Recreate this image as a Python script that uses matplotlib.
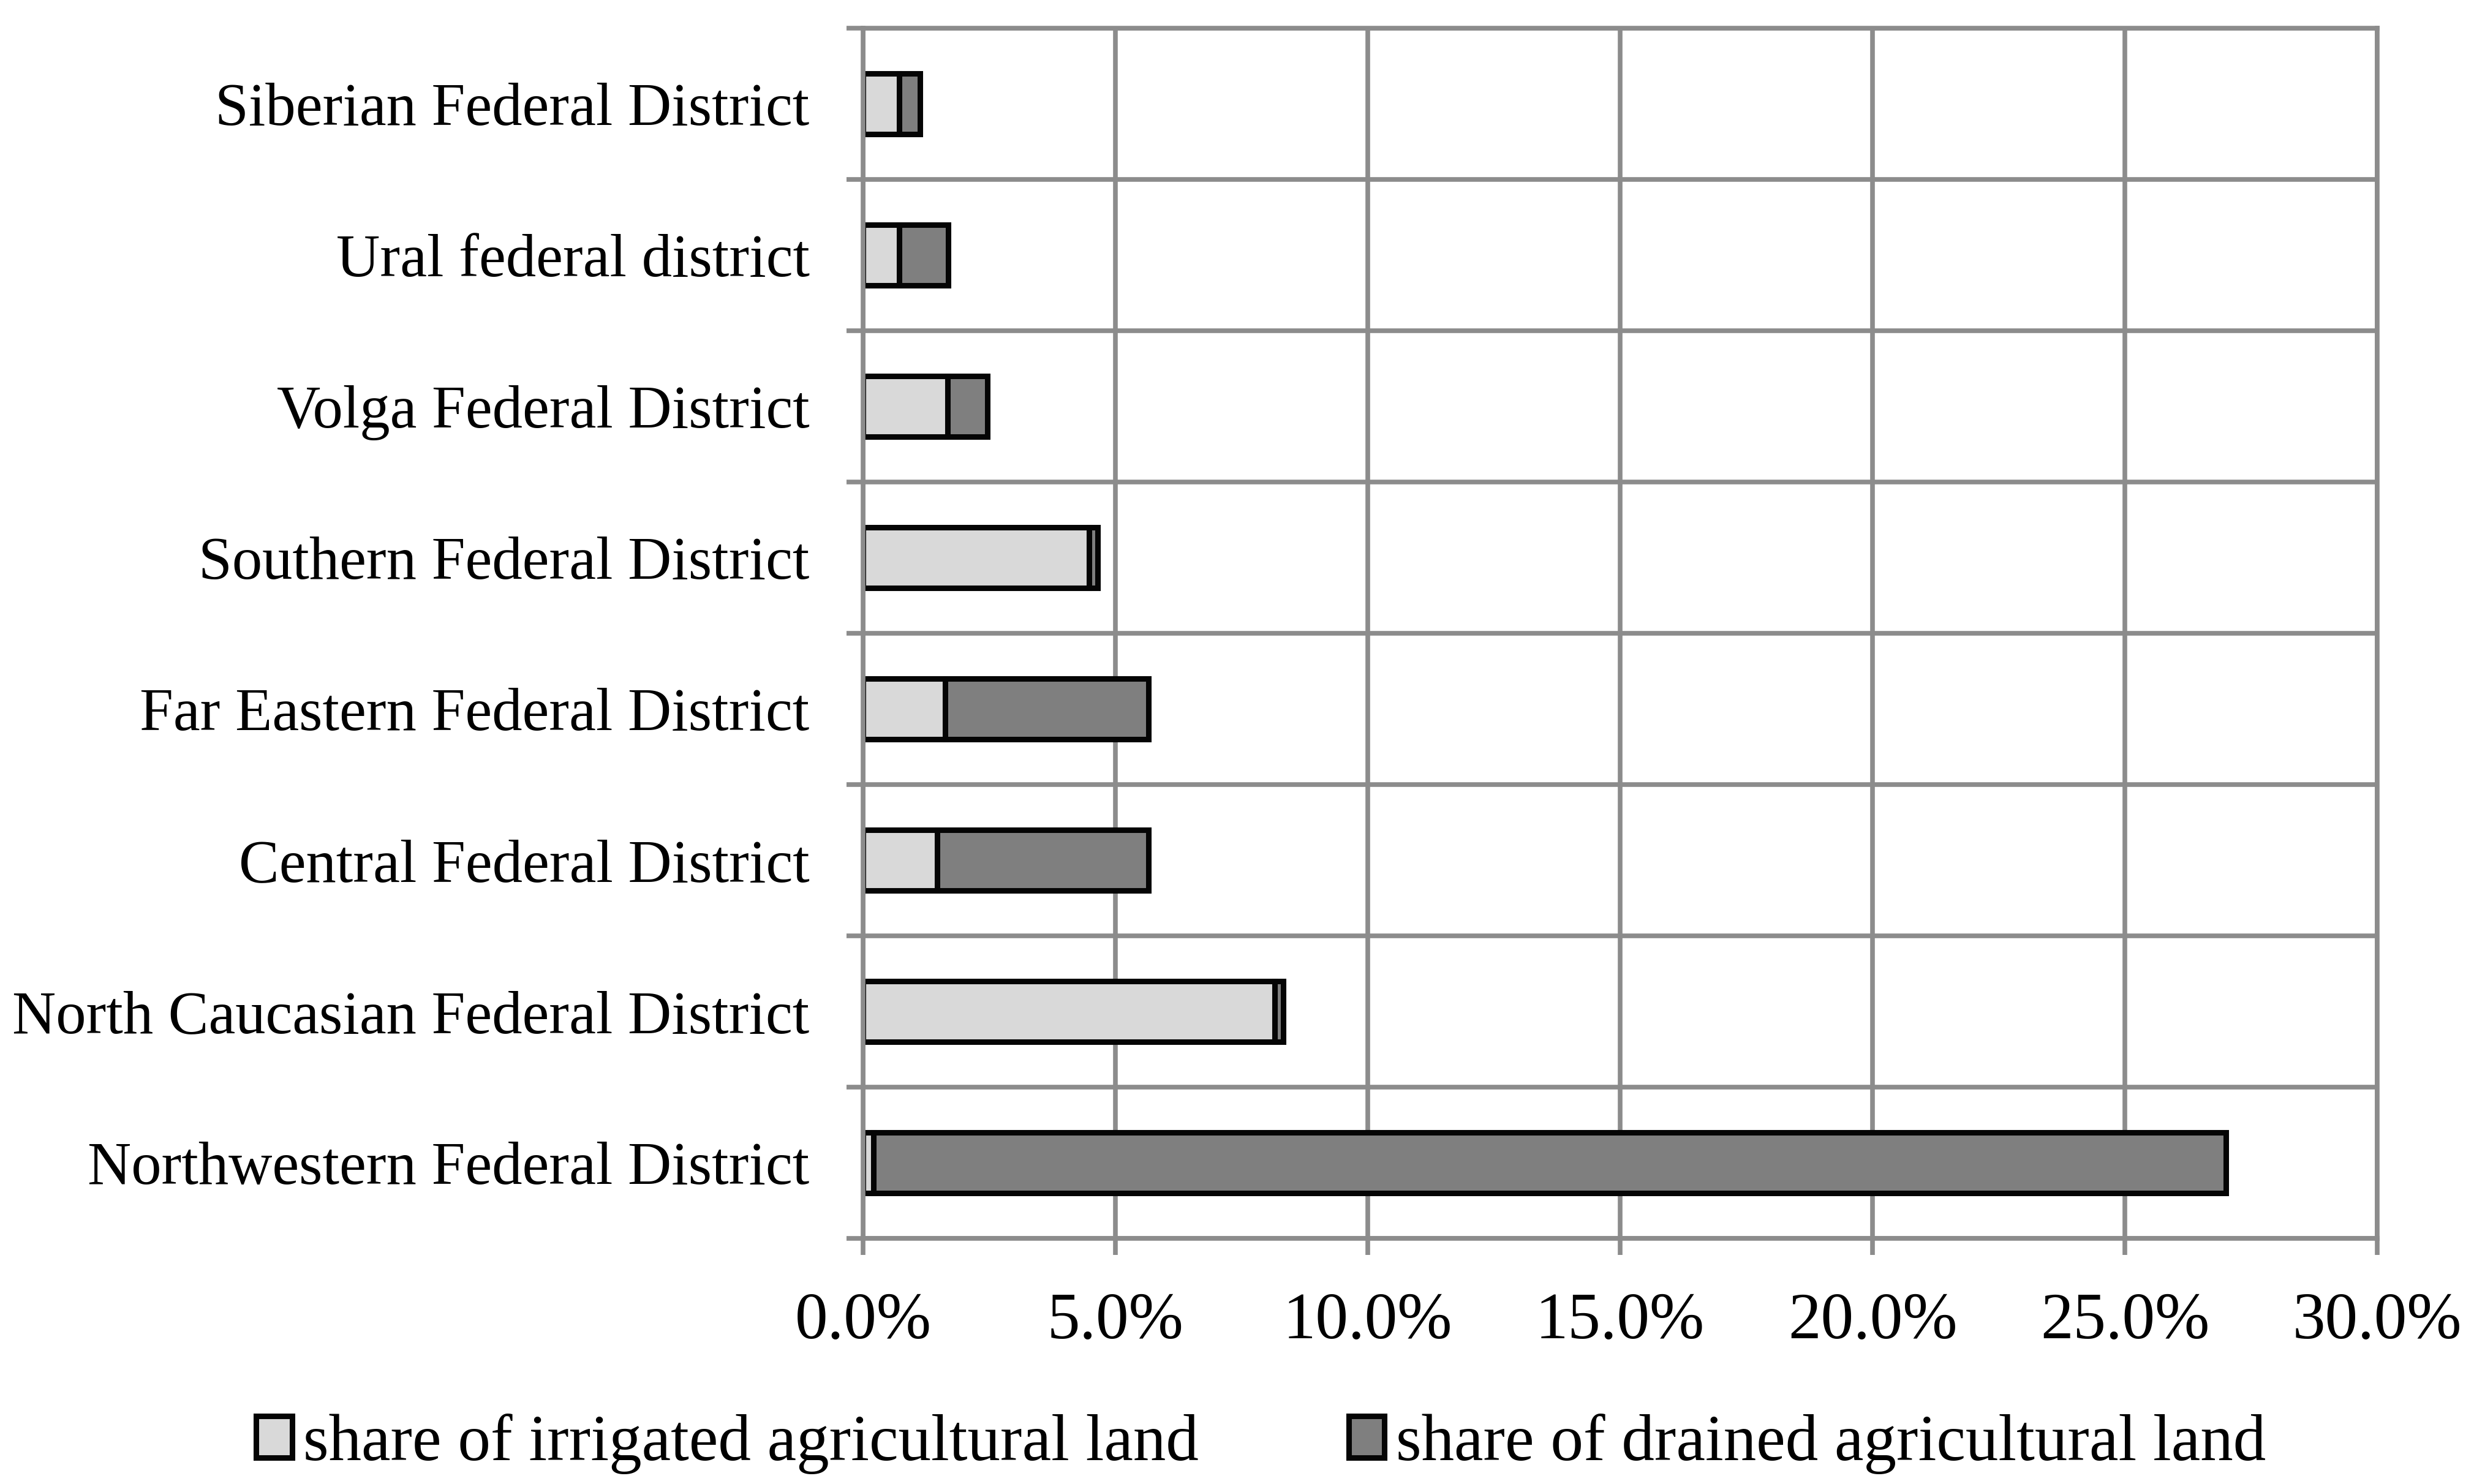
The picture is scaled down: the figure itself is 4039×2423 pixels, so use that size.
import matplotlib.pyplot as plt
from matplotlib.ticker import FuncFormatter

# districts listed bottom to top
districts = ["Northwestern Federal District", "North Caucasian Federal District",
             "Central Federal District", "Far Eastern Federal District",
             "Southern Federal District", "Volga Federal District",
             "Ural federal district", "Siberian Federal District"]
irrigated = [0.20, 8.15, 1.47, 1.62, 4.48, 1.67, 0.71, 0.71]
drained = [26.80, 0.17, 4.18, 4.03, 0.17, 0.79, 0.98, 0.42]
x_ticks = [0, 5, 10, 15, 20, 25, 30]

plt.rcParams['font.family'] = ['Liberation Serif', 'DejaVu Serif']
grid_col = "#8c8c8c"

fig = plt.figure(figsize=(40.39, 24.23), dpi=100)
ax = fig.add_axes([0.3489, 0.1655, 0.612, 0.8155])

y = list(range(len(districts)))
ax.barh(y, irrigated, height=0.4, color="#d9d9d9", edgecolor="#050505", lw=6.5,
        label="share of irrigated agricultural land")
ax.barh(y, drained, left=irrigated, height=0.4, color="#7f7f7f", edgecolor="#050505", lw=6.5,
        label="share of drained agricultural land")

ax.set_xlim(0, 30)
ax.set_ylim(-0.5, len(districts) - 0.5)
ax.set_xticks(x_ticks)
ax.xaxis.set_major_formatter(FuncFormatter(lambda v, p: f"{v:.1f}%"))
ax.set_yticks(y)
ax.set_yticklabels(districts, fontsize=71)
ax.set_yticks([i - 0.5 for i in range(len(districts) + 1)], minor=True)

ax.tick_params(axis="x", labelsize=77, length=19.4, width=5.5, color=grid_col, pad=44)
ax.tick_params(axis="y", which="major", length=0, pad=63)
ax.tick_params(axis="y", which="minor", length=19.4, width=5.5, color=grid_col)

ax.set_axisbelow(True)
ax.grid(axis="x", which="major", color=grid_col, lw=5.5)
ax.grid(axis="y", which="minor", color=grid_col, lw=5.5)
for s in ax.spines.values():
    s.set_color(grid_col)
    s.set_linewidth(5.5)

fig.legend(loc="center", bbox_to_anchor=(0.5096, 0.027), ncol=2, frameon=False,
           fontsize=77, handlelength=0.55, handleheight=0.6, handletextpad=0.17,
           columnspacing=2.29, borderaxespad=0)

fig.savefig("out.png", dpi=100)
